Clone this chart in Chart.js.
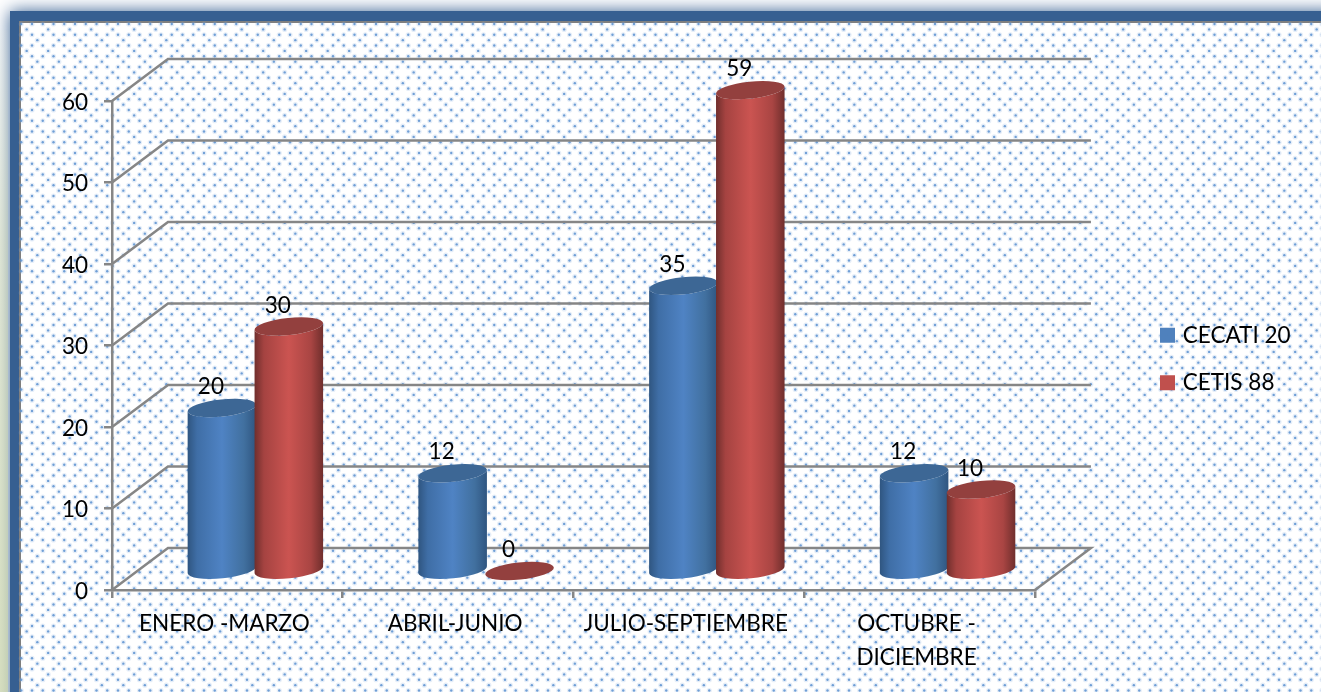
<!DOCTYPE html>
<html>
<head>
<meta charset="utf-8">
<style>html,body{margin:0;padding:0;background:#fff;overflow:hidden}canvas{display:block}</style>
<script src="https://cdn.jsdelivr.net/npm/chart.js@4/dist/chart.umd.js"></script>
</head>
<body>
<canvas id="c" width="1321" height="692" style="width:1321px;height:692px"></canvas>
<script>
const categories = ['ENERO -MARZO', 'ABRIL-JUNIO', 'JULIO-SEPTIEMBRE', ['OCTUBRE -', 'DICIEMBRE']];
const cecati20 = [20, 12, 35, 12];
const cetis88 = [30, 0, 59, 10];
const seriesNames = ['CECATI 20', 'CETIS 88'];
const yTicks = [0, 10, 20, 30, 40, 50, 60];

const GRID = '#868686', DEPTH_X = 56, DEPTH_Y = 42;
const FONT = 'Lato, Carlito, sans-serif';
const looks = [
  {edge: '#2f5580', mid: '#4f83c4', cap: '#3d6795', base: '#4f81bd'},
  {edge: '#6f2e2c', mid: '#cb5451', cap: '#93403e', base: '#c0504d'}
];

const frame = {
  id: 'frame',
  beforeDraw(chart) {
    const c = chart.ctx, W = chart.width, H = chart.height;
    c.save();
    c.fillStyle = '#fff'; c.fillRect(0, 0, W, H);
    c.save();
    c.shadowColor = '#365f91'; c.shadowBlur = 16;
    c.fillStyle = '#365f91'; c.fillRect(10, 11, W + 60, H + 60);
    c.restore();
    const g = c.createLinearGradient(0, 0, 0, H);
    g.addColorStop(0, 'rgba(215,225,190,0)');
    g.addColorStop(0.35, 'rgba(205,215,170,0.55)');
    g.addColorStop(1, 'rgba(205,215,170,0.95)');
    c.fillStyle = g;
    c.globalAlpha = 0.75;
    c.fillRect(0, 30, 8, H);
    c.globalAlpha = 1;
    c.fillStyle = '#fff'; c.fillRect(20, 22, W, H);
    c.fillStyle = '#7f7f7f';
    c.fillRect(19, 21, W, 2); c.fillRect(19, 21, 2, H);
    const p = 21.5, q = p / 4;
    for (let i = 0; 24 + i * q < H + 4; i++) {
      const y = 24 + i * q, m = i % 4;
      const step = m % 2 === 0 ? p / 2 : p;
      const x0 = m % 2 === 0 ? 32 - p * 2 : (m === 1 ? 26.67 : 37.33) - p * 2;
      for (let x = x0; x < W + 4; x += step) {
        if (x < 21 || y < 23) continue;
        c.fillStyle = 'rgba(130,170,220,0.2)';
        c.beginPath(); c.arc(x, y, 2.6, 0, Math.PI * 2); c.fill();
        c.fillStyle = 'rgba(90,144,208,0.85)';
        c.beginPath(); c.arc(x, y, 1.2, 0, Math.PI * 2); c.fill();
      }
    }
    c.restore();
  }
};

const walls = {
  id: 'walls',
  beforeDatasetsDraw(chart) {
    const c = chart.ctx, xs = chart.scales.x, ys = chart.scales.y;
    c.save();
    c.strokeStyle = GRID; c.lineWidth = 2.5; c.lineJoin = 'miter';
    yTicks.forEach(v => {
      const y = ys.getPixelForValue(v);
      c.beginPath();
      c.moveTo(xs.left, y);
      c.lineTo(xs.left + DEPTH_X, y - DEPTH_Y);
      c.lineTo(xs.right + DEPTH_X, y - DEPTH_Y);
      if (v === yTicks[0]) c.lineTo(xs.right, y);
      c.stroke();
    });
    c.restore();
  },
  beforeDatasetDraw() { return false; },
  afterDatasetsDraw(chart) {
    const c = chart.ctx, shiftX = DEPTH_X / 2, shiftY = DEPTH_Y / 2 - 1;
    const tilt = -6 * Math.PI / 180;
    c.save();
    chart.data.datasets.forEach((ds, di) => {
      const look = looks[di];
      chart.getDatasetMeta(di).data.forEach((el, i) => {
        const cx = el.x + shiftX, rx = el.width / 2 + 1, ry = 8.5;
        const top = el.y - shiftY + 1, bot = el.base - shiftY + 1;
        if (top < bot - 0.5) {
          const g = c.createLinearGradient(cx - rx, 0, cx + rx, 0);
          g.addColorStop(0, look.edge);
          g.addColorStop(0.14, di ? '#a54341' : '#3f6ea6');
          g.addColorStop(0.5, look.mid);
          g.addColorStop(0.82, di ? '#a94543' : '#41709f');
          g.addColorStop(1, look.edge);
          c.fillStyle = g;
          c.beginPath();
          c.ellipse(cx, bot, rx, ry, tilt, 0, Math.PI);
          c.ellipse(cx, top, rx, ry, tilt, Math.PI, 0, true);
          c.closePath();
          c.fill();
        }
        c.fillStyle = look.cap;
        c.beginPath();
        c.ellipse(cx, top, rx, ry, tilt, 0, Math.PI * 2);
        c.fill();
      });
    });
    c.fillStyle = '#000';
    c.font = '22.5px ' + FONT;
    c.textAlign = 'center'; c.textBaseline = 'middle';
    chart.data.datasets.forEach((ds, di) => {
      chart.getDatasetMeta(di).data.forEach((el, i) => {
        c.fillText(String(ds.data[i]), el.x + shiftX - 11, el.y - shiftY - 20);
      });
    });
    c.restore();
  },
  afterLayout(chart) {
    const l = chart.legend;
    const dx = 1138.5 - l.left;
    l.left += dx; l.right += dx;
    const dy = 299 - l.top;
    l.top += dy; l.bottom += dy;
  }
};

new Chart(document.getElementById('c'), {
  type: 'bar',
  data: {
    labels: categories,
    datasets: [
      {label: seriesNames[0], data: cecati20, backgroundColor: looks[0].base, borderColor: looks[0].base, borderWidth: 7},
      {label: seriesNames[1], data: cetis88, backgroundColor: looks[1].base, borderColor: looks[1].base, borderWidth: 7}
    ]
  },
  plugins: [frame, walls],
  options: {
    responsive: false,
    animation: false,
    events: [],
    layout: {padding: {left: 0, top: 101, right: 124, bottom: 0}},
    datasets: {bar: {categoryPercentage: 0.58, barPercentage: 1}},
    plugins: {
      tooltip: {enabled: false},
      legend: {
        position: 'right',
        align: 'start',
        labels: {
          color: '#000', boxWidth: 8, boxHeight: 8, padding: 25,
          font: {family: FONT, size: 22.5}
        }
      }
    },
    scales: {
      x: {
        afterFit(s) { s.height = 102; },
        grid: {drawOnChartArea: false, color: GRID, lineWidth: 2.5, tickLength: 8},
        border: {color: GRID, width: 2.5},
        ticks: {
          color: '#000', maxRotation: 0, minRotation: 0, padding: 9, labelOffset: -3,
          font: {family: FONT, size: 22.5, lineHeight: 1.5}
        }
      },
      y: {
        min: 0, max: 60,
        afterFit(s) { s.width = 112; },
        afterBuildTicks(s) { s.ticks = yTicks.map(v => ({value: v})); },
        grid: {drawOnChartArea: false, color: GRID, lineWidth: 2.5, tickLength: 8},
        border: {color: GRID, width: 2.5},
        ticks: {color: '#000', padding: 16, labelOffset: 1.5, font: {family: FONT, size: 22.5}}
      }
    }
  }
});
</script>
</body>
</html>
